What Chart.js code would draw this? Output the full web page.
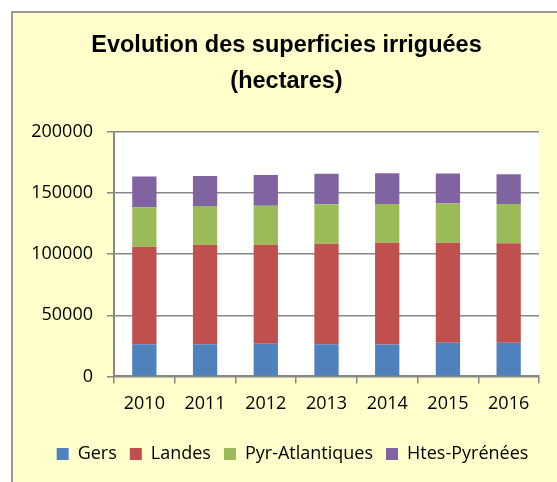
<!DOCTYPE html>
<html>
<head>
<meta charset="utf-8">
<script src="https://cdn.jsdelivr.net/npm/chart.js@4"></script>
<style>
  html, body { margin: 0; padding: 0; background: #fff; overflow: hidden; }
  #frame { position: absolute; left: 11px; top: 11px; width: 600px; height: 500px;
           background: #FFFFCC; border-left: 2px solid #9a9a9a; border-top: 2px solid #9a9a9a; }
  #wrap { position: absolute; left: 0; top: 0; width: 557px; height: 482px; }
</style>
</head>
<body>
<div id="frame"></div>
<div id="wrap"><canvas id="barChart"></canvas></div>
<script>
const years = ['2010', '2011', '2012', '2013', '2014', '2015', '2016'];
const gers = [26200, 26200, 26800, 26200, 26000, 27600, 27600];
const landes = [79800, 81400, 80900, 82200, 83300, 81700, 81200];
const pyrAtlantiques = [32300, 31700, 31900, 32300, 31700, 32200, 32200];
const htesPyrenees = [25100, 24600, 25100, 25100, 25100, 24400, 24300];
const yTicks = [0, 50000, 100000, 150000, 200000];

const gridColor = '#878787';
const labelFont = { family: 'Open Sans', size: 18 };

// white plot area + frame is wider than the window, so title/legend sit right of the canvas middle
const plotBackground = {
  id: 'plotBackground',
  afterLayout(chart) {
    const shift = (box, dx) => { if (box) { box.left += dx; box.right += dx; } };
    shift(chart.titleBlock, 11);
    shift(chart.legend, 17);
  },
  beforeDraw(chart) {
    const { ctx, chartArea } = chart;
    ctx.save();
    ctx.fillStyle = '#ffffff';
    ctx.fillRect(chartArea.left, chartArea.top, chartArea.right - chartArea.left, chartArea.bottom - chartArea.top);
    ctx.restore();
  }
};

const ctx = document.getElementById('barChart').getContext('2d');
const barChart = new Chart(ctx, {
  type: 'bar',
  data: {
    labels: years,
    datasets: [
      { label: 'Gers', data: gers, backgroundColor: '#4F81BD' },
      { label: 'Landes', data: landes, backgroundColor: '#C0504D' },
      { label: 'Pyr-Atlantiques', data: pyrAtlantiques, backgroundColor: '#9BBB59' },
      { label: 'Htes-Pyrénées', data: htesPyrenees, backgroundColor: '#8064A2' }
    ]
  },
  options: {
    responsive: true,
    maintainAspectRatio: false,
    animation: false,
    barPercentage: 0.5,
    categoryPercentage: 0.8,
    layout: { padding: { left: 12, right: 18, top: 0, bottom: 9 } },
    plugins: {
      title: {
        display: true,
        text: ['Evolution des superficies irriguées', '(hectares)'],
        color: '#000',
        font: { family: 'Liberation Sans', size: 23.5, weight: 'bold', lineHeight: 1.55 },
        padding: { top: 27, bottom: 32 }
      },
      legend: {
        position: 'bottom',
        labels: {
          color: '#000',
          font: labelFont,
          boxWidth: 12,
          boxHeight: 12,
          padding: 13
        }
      },
      tooltip: { enabled: false }
    },
    scales: {
      x: {
        stacked: true,
        afterFit(scale) { scale.height += 7; },
        grid: { drawOnChartArea: false, drawTicks: true, tickLength: 7, color: gridColor, lineWidth: 1.5 },
        border: { color: gridColor, width: 2 },
        ticks: { color: '#000', font: labelFont, padding: 10, maxRotation: 0 }
      },
      y: {
        stacked: true,
        min: 0,
        max: 200000,
        afterFit(scale) { scale.width = 102; },
        afterBuildTicks(scale) { scale.ticks = yTicks.map(v => ({ value: v })); },
        grid: { color: gridColor, lineWidth: 1.5, tickLength: 7 },
        border: { color: gridColor, width: 2 },
        ticks: { color: '#000', font: labelFont, padding: 14, callback: v => String(v) }
      }
    }
  },
  plugins: [plotBackground]
});
</script>
</body>
</html>
